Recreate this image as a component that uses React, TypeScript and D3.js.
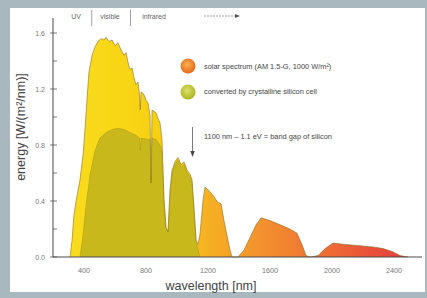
import React from 'react';
import * as d3 from 'd3';

// AM 1.5-G solar spectrum
const solarNm = [310, 323, 335, 355, 374, 394, 406, 419, 432, 452, 471, 490, 510, 529, 542, 561, 581, 600, 619, 639, 658, 671, 684, 697, 710, 723, 735, 748, 758, 763, 768, 787, 800, 813, 826, 832, 839, 852, 865, 877, 890, 903, 916, 929, 942, 955, 968, 987, 1006, 1026, 1045, 1065, 1084, 1097, 1110, 1123, 1135, 1148, 1168, 1181, 1200, 1232, 1264, 1284, 1303, 1323, 1342, 1355, 1394, 1432, 1471, 1510, 1542, 1600, 1665, 1729, 1774, 1806, 1832, 1858, 1910, 1955, 2006, 2084, 2181, 2277, 2329, 2387, 2439, 2490];
const solarE = [0, 0.12, 0.3, 0.44, 0.55, 0.73, 0.91, 1.12, 1.32, 1.44, 1.5, 1.54, 1.56, 1.55, 1.57, 1.54, 1.55, 1.51, 1.53, 1.48, 1.44, 1.46, 1.39, 1.34, 1.35, 1.28, 1.23, 1.25, 1.16, 1.05, 1.18, 1.16, 1.12, 1.1, 1.01, 0.53, 1.05, 1.04, 1.03, 0.99, 0.96, 0.84, 0.41, 0.21, 0.18, 0.48, 0.62, 0.68, 0.71, 0.66, 0.68, 0.62, 0.59, 0.55, 0.34, 0.12, 0.09, 0.16, 0.41, 0.5, 0.48, 0.44, 0.39, 0.38, 0.26, 0.15, 0.05, 0, 0, 0.05, 0.14, 0.23, 0.28, 0.26, 0.23, 0.2, 0.17, 0.09, 0.01, 0, 0.01, 0.06, 0.1, 0.09, 0.08, 0.07, 0.06, 0.04, 0.01, 0];

// part converted by a crystalline silicon cell
const siliconNm = [374, 394, 413, 439, 471, 503, 542, 581, 619, 658, 697, 735, 758, 763, 768, 813, 826, 832, 839, 865, 890, 903, 916, 929, 942, 955, 968, 987, 1006, 1026, 1045, 1065, 1084, 1097, 1110, 1123, 1135, 1148];
const siliconE = [0, 0.16, 0.37, 0.59, 0.76, 0.85, 0.89, 0.91, 0.92, 0.91, 0.89, 0.87, 0.85, 0.76, 0.85, 0.84, 0.84, 0.53, 0.85, 0.84, 0.8, 0.76, 0.41, 0.21, 0.18, 0.47, 0.6, 0.66, 0.69, 0.64, 0.66, 0.6, 0.57, 0.53, 0.33, 0.11, 0.05, 0];

const xTicks = [400, 800, 1200, 1600, 2000, 2400];
const yMajor = [0, 0.4, 0.8, 1.2, 1.6];
const yMinor = [0.2, 0.6, 1.0, 1.4];
const bands = ['UV', 'visible', 'infrared'];
const legendLabels = ['solar spectrum (AM 1.5-G, 1000 W/m²)', 'converted by crystalline silicon cell'];
const bandGapNote = '1100 nm – 1.1 eV = band gap of silicon';

const W = 427;
const H = 298;
const FONT = "'Liberation Sans', Arial, Helvetica, sans-serif";

export default function App() {
  const x = d3.scaleLinear().domain([200, 2580]).range([53, 422]);
  const y = d3.scaleLinear().domain([0, 1.7]).range([257, 19]);

  const solar = solarNm.map((nm, i) => ({ nm, e: solarE[i] }));
  const silicon = siliconNm.map((nm, i) => ({ nm, e: siliconE[i] }));

  const area = d3.area<{ nm: number; e: number }>()
    .x(d => x(d.nm))
    .y0(y(0))
    .y1(d => y(d.e));
  const line = d3.line<{ nm: number; e: number }>()
    .x(d => x(d.nm))
    .y(d => y(d.e));

  const x0 = x(310);
  const x1 = x(2490);
  const gapX = x(1100);

  return (
    <div style={{ position: 'absolute', left: 0, top: 0, width: W, height: H }}>
      <svg width={W} height={H} style={{ display: 'block', fontFamily: FONT }}>
        <defs>
          <linearGradient id="solarGrad" gradientUnits="userSpaceOnUse" x1={x0} y1={0} x2={x1} y2={0}>
            <stop offset="0%" stopColor="#f9dc1c" />
            <stop offset="28%" stopColor="#f7d010" />
            <stop offset="40%" stopColor="#f6b222" />
            <stop offset="56%" stopColor="#f3922e" />
            <stop offset="76%" stopColor="#ee6c34" />
            <stop offset="100%" stopColor="#e63a3e" />
          </linearGradient>
          <radialGradient id="dotSolar" cx="45%" cy="40%" r="60%">
            <stop offset="0%" stopColor="#f9b050" />
            <stop offset="100%" stopColor="#e8661c" />
          </radialGradient>
          <radialGradient id="dotSilicon" cx="45%" cy="40%" r="60%">
            <stop offset="0%" stopColor="#dde270" />
            <stop offset="100%" stopColor="#aeb21c" />
          </radialGradient>
        </defs>

        {/* frame */}
        <rect x={0} y={0} width={W} height={H} fill="#a8b8be" />
        <rect x={10} y={8} width={415} height={284} fill="#ffffff" />

        {/* spectra */}
        <path d={area(solar) || ''} fill="url(#solarGrad)" />
        <path d={area(silicon) || ''} fill="#c9b81c" />
        <path d={line(solar) || ''} fill="none" stroke="#8a6e2a" strokeWidth={0.6} />
        <path d={line(silicon) || ''} fill="none" stroke="#9a8a1a" strokeWidth={0.4} />

        {/* axes */}
        <line x1={53} x2={422} y1={y(0)} y2={y(0)} stroke="#4a4a4a" strokeWidth={1} />
        <line x1={53} x2={53} y1={y(0)} y2={18} stroke="#4a4a4a" strokeWidth={1} />
        {yMajor.map(v => (
          <g key={'M' + v}>
            <line x1={50} x2={57} y1={y(v)} y2={y(v)} stroke="#555" strokeWidth={0.8} />
            <text x={45} y={y(v) + 2.5} textAnchor="end" fontSize={7} fill="#777">{v.toFixed(1)}</text>
          </g>
        ))}
        {yMinor.map(v => (
          <line key={'m' + v} x1={53} x2={57} y1={y(v)} y2={y(v)} stroke="#555" strokeWidth={0.8} />
        ))}
        {xTicks.map(v => (
          <text key={v} x={x(v)} y={273} textAnchor="middle" fontSize={7.2} fill="#777">{v}</text>
        ))}

        <text x={211} y={290} textAnchor="middle" fontSize={12.5} fill="#444">wavelength [nm]</text>
        <text transform="translate(25,127) rotate(-90)" textAnchor="middle" fontSize={12.5} fill="#444">
          energy [W/(m²/nm)]
        </text>

        {/* band header */}
        <text x={76} y={19} textAnchor="middle" fontSize={7} fill="#666">{bands[0]}</text>
        <line x1={x(450)} x2={x(450)} y1={10} y2={26} stroke="#888" strokeWidth={0.8} />
        <text x={110} y={19} textAnchor="middle" fontSize={7} fill="#666">{bands[1]}</text>
        <line x1={x(700)} x2={x(700)} y1={10} y2={26} stroke="#888" strokeWidth={0.8} />
        <text x={154} y={19} textAnchor="middle" fontSize={7} fill="#666">{bands[2]}</text>
        <line x1={204} x2={236} y1={16} y2={16} stroke="#666" strokeWidth={0.6} strokeDasharray="2,1" />
        <path d="M240,16 L235,14 L235,18 Z" fill="#555" />

        {/* legend */}
        <circle cx={188} cy={66} r={7.5} fill="url(#dotSolar)" />
        <circle cx={188} cy={92} r={7.5} fill="url(#dotSilicon)" />
        <text x={204} y={68.5} fontSize={7.4} fill="#444">{legendLabels[0]}</text>
        <text x={204} y={94} fontSize={7.4} fill="#444">{legendLabels[1]}</text>

        {/* band gap marker */}
        <line x1={gapX} x2={gapX} y1={127} y2={153} stroke="#555" strokeWidth={0.8} />
        <path d={`M${gapX},157 L${gapX - 2.2},151 L${gapX + 2.2},151 Z`} fill="#444" />
        <text x={204} y={139} fontSize={7.4} fill="#444">{bandGapNote}</text>
      </svg>
    </div>
  );
}
